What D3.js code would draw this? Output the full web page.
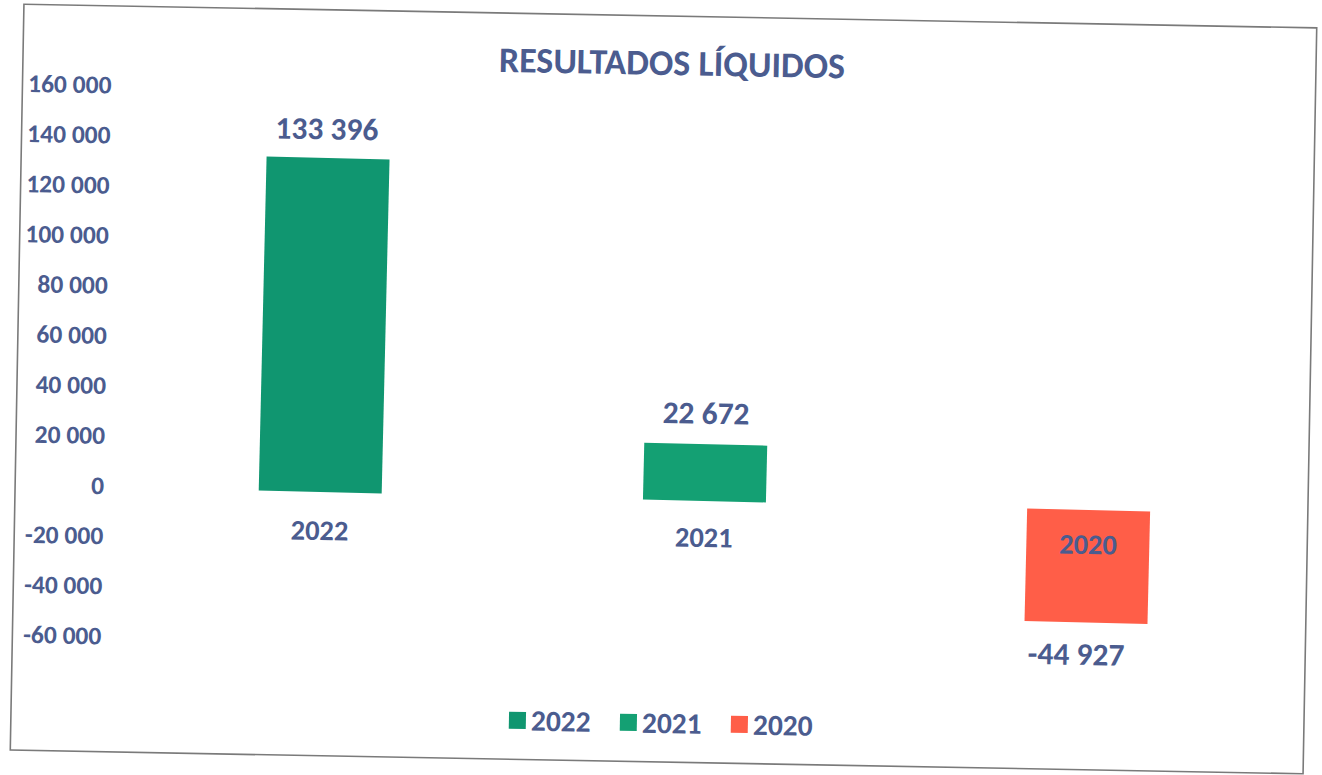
<!DOCTYPE html>
<html>
<head>
<meta charset="utf-8">
<script src="https://cdn.jsdelivr.net/npm/d3@7/dist/d3.min.js"></script>
<style>
  html, body { margin: 0; padding: 0; background: #ffffff; }
  svg { display: block; }
  text { font-family: Calibri, Carlito, Lato, "Open Sans", sans-serif; font-weight: bold; }
</style>
</head>
<body>
<svg id="chart" width="1322" height="775"></svg>
<script>
// ---- data ----
const title = "RESULTADOS LÍQUIDOS";
const categories = ["2022", "2021", "2020"];
const values = [133396, 22672, -44927];
const colors = ["#109670", "#14a073", "#ff5e48"];
const yTicks = [-60000, -40000, -20000, 0, 20000, 40000, 60000, 80000, 100000, 120000, 140000, 160000];
const yDomain = [-60000, 160000];

const textColor = "#4b5c8f";
const locale = d3.formatLocale({ decimal: ",", thousands: " ", grouping: [3], currency: ["", ""], minus: "-" });
const fmt = locale.format(",d");

const svg = d3.select("#chart");
// whole scanned sheet is slightly rotated
const g = svg.append("g").attr("transform", "rotate(1.05, 664, 389)");

// frame
g.append("rect")
  .attr("x", 17).attr("y", 16).attr("width", 1293).attr("height", 746)
  .attr("fill", "#ffffff").attr("stroke", "#7a7a7a").attr("stroke-width", 1.6);

// scales
const y = d3.scaleLinear().domain(yDomain).range([646, 95]);
const x = d3.scaleBand().domain(categories).range([130, 1283]).paddingInner(0.68).paddingOuter(0.34);

// title
g.append("text")
  .attr("x", 666).attr("y", 63)
  .attr("text-anchor", "middle").attr("dominant-baseline", "central")
  .attr("fill", textColor).attr("font-size", 36)
  .text(title);

// y axis
const yAxis = d3.axisLeft(y).tickValues(yTicks).tickSize(0).tickPadding(0).tickFormat(fmt);
const ya = g.append("g").attr("transform", "translate(106,0)").call(yAxis);
ya.select(".domain").remove();
ya.selectAll("text")
  .attr("fill", textColor).attr("font-size", 25.5)
  .style("font-family", "Calibri, Carlito, Lato, 'Open Sans', sans-serif")
  .style("font-weight", "bold");

// bars (the scan warps the plot area slightly more than the frame)
const data = categories.map((c, i) => ({ c, v: values[i], col: colors[i] }));
const barG = g.append("g").attr("transform", "translate(0,2.5) rotate(0.3, 322, 490)");
barG.selectAll("rect.bar").data(data).enter().append("rect")
  .attr("class", "bar")
  .attr("x", d => x(d.c))
  .attr("width", x.bandwidth())
  .attr("y", d => y(Math.max(0, d.v)))
  .attr("height", d => Math.abs(y(d.v) - y(0)))
  .attr("fill", d => d.col);

// category labels (next to zero axis)
g.selectAll("text.cat").data(data).enter().append("text")
  .attr("class", "cat")
  .attr("x", d => x(d.c) + x.bandwidth() / 2)
  .attr("y", y(0) + 41)
  .attr("text-anchor", "middle").attr("dominant-baseline", "central")
  .attr("fill", textColor).attr("font-size", 28.5)
  .text(d => d.c);

// value labels
g.selectAll("text.val").data(data).enter().append("text")
  .attr("class", "val")
  .attr("x", d => x(d.c) + x.bandwidth() / 2 - (d.v < 0 ? 10 : 0))
  .attr("y", d => d.v >= 0 ? y(d.v) - 27 : y(d.v) + 38)
  .attr("text-anchor", "middle").attr("dominant-baseline", "central")
  .attr("fill", textColor).attr("font-size", 31.5)
  .text(d => fmt(d.v));

// legend
const lx = d3.scaleBand().domain(categories).range([515, 848]);
const leg = g.selectAll("g.leg").data(data).enter().append("g")
  .attr("class", "leg")
  .attr("transform", d => `translate(${lx(d.c)},723)`);
leg.append("rect").attr("x", 0).attr("y", -8.5).attr("width", 17).attr("height", 17).attr("fill", d => d.col);
leg.append("text").attr("x", 22).attr("y", 0).attr("dominant-baseline", "central")
  .attr("fill", textColor).attr("font-size", 29.5).text(d => d.c);
</script>
</body>
</html>
